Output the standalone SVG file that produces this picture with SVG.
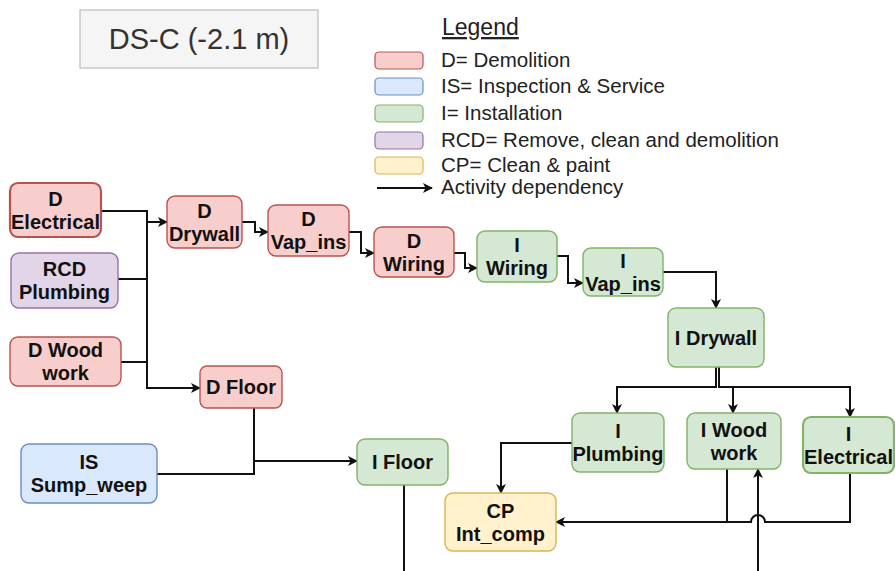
<svg xmlns="http://www.w3.org/2000/svg" width="895" height="571" viewBox="0 0 895 571">
  <style>
    .node rect { stroke-width: 1.4; }
    .node text { font-family: "Liberation Sans", Arial, sans-serif; font-weight: bold; font-size: 20px; fill: #111; text-anchor: middle; }
    .d rect { fill: #f8cecc; stroke: #b85450; }
    .is rect { fill: #dae8fc; stroke: #6c8ebf; }
    .i rect { fill: #d5e8d4; stroke: #82b366; }
    .rcd rect { fill: #e1d5e7; stroke: #9673a6; }
    .cp rect { fill: #fff2cc; stroke: #d6b656; }
    .thick rect { stroke-width: 2.2; }
    .edges path { fill: none; stroke: #111; stroke-width: 2; }
    .legend text { font-family: "Liberation Sans", Arial, sans-serif; font-size: 20.5px; fill: #222; }
    .sw { stroke-width: 1.2; }
  </style>
  <defs>
    <marker id="arrow" viewBox="0 0 10 10" refX="9" refY="5" markerWidth="5" markerHeight="5" orient="auto" markerUnits="strokeWidth">
      <path d="M0,0 L10,5 L0,10 L2.5,5 Z" fill="#111"/>
    </marker>
  </defs>
  <rect width="895" height="571" fill="#ffffff"/>

  <!-- title -->
  <g id="title">
    <rect x="80" y="10" width="238" height="58" fill="#f5f5f5" stroke="#bdbdbd" stroke-width="1.2"/>
    <text x="199" y="49" font-family="Liberation Sans, Arial, sans-serif" font-size="29" fill="#333" text-anchor="middle">DS-C (-2.1 m)</text>
  </g>

  <!-- legend -->
  <g id="legend" class="legend">
    <text x="442" y="35" text-decoration="underline" style="font-size:23px">Legend</text>
    <rect class="sw" x="375" y="52" width="48" height="17" rx="4" fill="#f8cecc" stroke="#b85450"/>
    <text x="441" y="67">D= Demolition</text>
    <rect class="sw" x="375" y="78" width="48" height="17" rx="4" fill="#dae8fc" stroke="#6c8ebf"/>
    <text x="441" y="93">IS= Inspection &amp; Service</text>
    <rect class="sw" x="375" y="105" width="48" height="17" rx="4" fill="#d5e8d4" stroke="#82b366"/>
    <text x="441" y="120">I= Installation</text>
    <rect class="sw" x="375" y="132" width="48" height="17" rx="4" fill="#e1d5e7" stroke="#9673a6"/>
    <text x="441" y="147">RCD= Remove, clean and demolition</text>
    <rect class="sw" x="375" y="157" width="48" height="17" rx="4" fill="#fff2cc" stroke="#d6b656"/>
    <text x="441" y="172">CP= Clean &amp; paint</text>
    <path d="M377,188 H432" fill="none" stroke="#111" stroke-width="2" marker-end="url(#arrow)"/>
    <text x="441" y="194">Activity dependency</text>
  </g>

  <!-- connectors -->
  <g id="connectors" class="edges">
    <path d="M101,211 H147 V222 H167" marker-end="url(#arrow)"/>
    <path d="M147,222 V388 H200" marker-end="url(#arrow)"/>
    <path d="M118,279 H147"/>
    <path d="M121,362 H147"/>
    <path d="M242,222 H255 V232 H268" marker-end="url(#arrow)"/>
    <path d="M349,232 H361 V253 H374" marker-end="url(#arrow)"/>
    <path d="M454,253 H465 V268 H477" marker-end="url(#arrow)"/>
    <path d="M557,256 H568 V283 H583" marker-end="url(#arrow)"/>
    <path d="M663,272 H716 V308" marker-end="url(#arrow)"/>
    <path d="M716,367 V387 H617 V413" marker-end="url(#arrow)"/>
    <path d="M719,367 V387 H850 V417" marker-end="url(#arrow)"/>
    <path d="M719,387 H733 V413" marker-end="url(#arrow)"/>
    <path d="M572,443 H501 V493" marker-end="url(#arrow)"/>
    <path d="M727,469 V522 H556" marker-end="url(#arrow)"/>
    <path d="M850,473 V522 H765 A7,7 0 0 0 751,522 H727"/>
    <path d="M758,571 V469" marker-end="url(#arrow)"/>
    <path d="M404,485 V571"/>
    <path d="M254,408 V461 H357" marker-end="url(#arrow)"/>
    <path d="M157,474 H254 V461"/>
  </g>

  <!-- nodes -->
  <g id="d-electrical" class="node d thick">
    <rect x="10" y="183" width="91" height="54" rx="8"/>
    <text x="55.5" y="205.5">D</text>
    <text x="55.5" y="228.5">Electrical</text>
  </g>
  <g id="rcd-plumbing" class="node rcd">
    <rect x="11" y="253" width="107" height="55" rx="8"/>
    <text x="64.5" y="276">RCD</text>
    <text x="64.5" y="299">Plumbing</text>
  </g>
  <g id="d-woodwork" class="node d">
    <rect x="10" y="337" width="111" height="49" rx="8"/>
    <text x="65.5" y="357">D Wood</text>
    <text x="65.5" y="380">work</text>
  </g>
  <g id="d-drywall" class="node d">
    <rect x="167" y="196" width="75" height="52" rx="8"/>
    <text x="204.5" y="218">D</text>
    <text x="204.5" y="241">Drywall</text>
  </g>
  <g id="d-vapins" class="node d">
    <rect x="268" y="205" width="81" height="51" rx="8"/>
    <text x="308.5" y="226">D</text>
    <text x="308.5" y="249">Vap_ins</text>
  </g>
  <g id="d-wiring" class="node d">
    <rect x="374" y="227" width="80" height="50" rx="8"/>
    <text x="414" y="247.5">D</text>
    <text x="414" y="270.5">Wiring</text>
  </g>
  <g id="i-wiring" class="node i">
    <rect x="477" y="231" width="80" height="51" rx="8"/>
    <text x="517" y="252">I</text>
    <text x="517" y="275">Wiring</text>
  </g>
  <g id="i-vapins" class="node i">
    <rect x="583" y="248" width="80" height="48" rx="8"/>
    <text x="623" y="267.5">I</text>
    <text x="623" y="290.5">Vap_ins</text>
  </g>
  <g id="i-drywall" class="node i">
    <rect x="668" y="308" width="96" height="59" rx="8"/>
    <text x="716" y="344.5">I Drywall</text>
  </g>
  <g id="d-floor" class="node d">
    <rect x="200" y="366" width="82" height="42" rx="7"/>
    <text x="241" y="394">D Floor</text>
  </g>
  <g id="is-sumpweep" class="node is">
    <rect x="21" y="444" width="136" height="59" rx="8"/>
    <text x="89" y="469">IS</text>
    <text x="89" y="492">Sump_weep</text>
  </g>
  <g id="i-floor" class="node i">
    <rect x="357" y="439" width="91" height="46" rx="8"/>
    <text x="402.5" y="469">I Floor</text>
  </g>
  <g id="i-plumbing" class="node i">
    <rect x="572" y="413" width="92" height="59" rx="8"/>
    <text x="618" y="438">I</text>
    <text x="618" y="461">Plumbing</text>
  </g>
  <g id="i-woodwork" class="node i">
    <rect x="687" y="413" width="94" height="56" rx="8"/>
    <text x="734" y="436.5">I Wood</text>
    <text x="734" y="459.5">work</text>
  </g>
  <g id="i-electrical" class="node i thick">
    <rect x="803" y="417" width="91" height="56" rx="8"/>
    <text x="848.5" y="440.5">I</text>
    <text x="848.5" y="463.5">Electrical</text>
  </g>
  <g id="cp-intcomp" class="node cp">
    <rect x="445" y="493" width="111" height="58" rx="8"/>
    <text x="500.5" y="517.5">CP</text>
    <text x="500.5" y="540.5">Int_comp</text>
  </g>
</svg>
